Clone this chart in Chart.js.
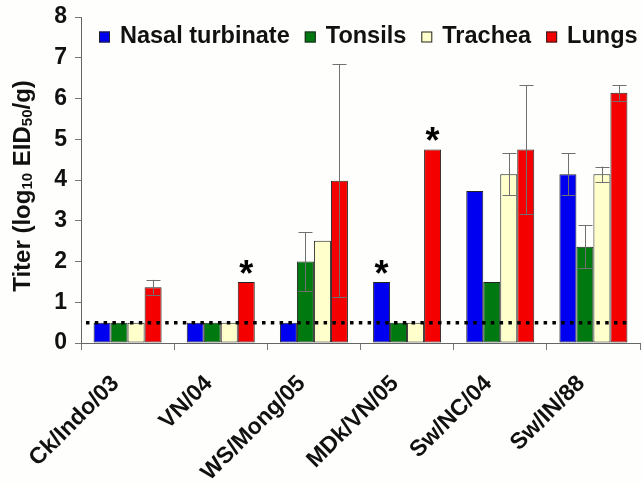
<!DOCTYPE html>
<html>
<head>
<meta charset="utf-8">
<script src="https://cdn.jsdelivr.net/npm/chart.js@4/dist/chart.umd.min.js"></script>
<style>
  html, body { margin: 0; padding: 0; background: #fefefc; }
  #wrap { width: 642px; height: 484px; }
</style>
</head>
<body>
<div id="wrap"><canvas id="c" width="642" height="484"></canvas></div>
<script>
// Virus strains (x categories)
const categories = ['Ck/Indo/03', 'VN/04', 'WS/Mong/05', 'MDk/VN/05', 'Sw/NC/04', 'Sw/IN/88'];

// Mean titers, log10 EID50/g
const nasalTurbinate = [0.5, 0.5, 0.5, 1.5, 3.73, 4.14];
const tonsils        = [0.5, 0.5, 2.0, 0.5, 1.5, 2.36];
const trachea        = [0.5, 0.5, 2.51, 0.5, 4.14, 4.14];
const lungs          = [1.37, 1.5, 3.98, 4.75, 4.75, 6.14];

// Standard deviations (0 = no error bar)
const nasalTurbinateSD = [0, 0, 0, 0, 0, 0.52];
const tonsilsSD        = [0, 0, 0.72, 0, 0, 0.53];
const tracheaSD        = [0, 0, 0, 0, 0.52, 0.19];
const lungsSD          = [0.18, 0, 2.86, 0, 1.58, 0.19];

// Significance markers (*) per series
const nasalTurbinateSig = [false, false, false, true, false, false];
const tonsilsSig        = [false, false, false, false, false, false];
const tracheaSig        = [false, false, false, false, false, false];
const lungsSig          = [false, true, false, true, false, false];

// Y axis ticks and detection limit
const yTicks = [0, 1, 2, 3, 4, 5, 6, 7, 8];
const detectionLimit = 0.5;

const FONT = '"Liberation Sans", Arial, Helvetica, sans-serif';

const datasets = [
  { label: 'Nasal turbinate', data: nasalTurbinate, sd: nasalTurbinateSD, sig: nasalTurbinateSig, backgroundColor: '#0000f0' },
  { label: 'Tonsils',         data: tonsils,        sd: tonsilsSD,        sig: tonsilsSig,        backgroundColor: '#007a10' },
  { label: 'Trachea',         data: trachea,        sd: tracheaSD,        sig: tracheaSig,        backgroundColor: '#ffffcc' },
  { label: 'Lungs',           data: lungs,          sd: lungsSD,          sig: lungsSig,          backgroundColor: '#f50000' }
].map(d => Object.assign(d, {
  borderColor: '#222',
  borderWidth: 1,
  borderSkipped: false,
  barPercentage: 1.0,
  categoryPercentage: 0.73
}));

// Page background
const bgPlugin = {
  id: 'bg',
  beforeDraw(chart) {
    const ctx = chart.ctx;
    ctx.save();
    ctx.fillStyle = '#fefefc';
    ctx.fillRect(0, 0, chart.width, chart.height);
    ctx.restore();
  }
};

// Error bars, detection-limit line, asterisks, axis labels and legend
const overlayPlugin = {
  id: 'overlay',
  afterDatasetsDraw(chart) {
    const ctx = chart.ctx;
    const y = chart.scales.y;
    const area = chart.chartArea;
    ctx.save();
    chart.data.datasets.forEach((ds, di) => {
      const meta = chart.getDatasetMeta(di);
      meta.data.forEach((bar, i) => {
        const sd = ds.sd[i];
        if (sd > 0) {
          const v = ds.data[i];
          const yTop = y.getPixelForValue(v + sd);
          const yBot = y.getPixelForValue(v - sd);
          const x = Math.round(bar.x) + 0.5;
          const cap = 7;
          ctx.strokeStyle = '#707070';
          ctx.lineWidth = 1;
          ctx.beginPath();
          ctx.moveTo(x, yTop); ctx.lineTo(x, yBot);
          ctx.moveTo(x - cap, Math.round(yTop) + 0.5); ctx.lineTo(x + cap, Math.round(yTop) + 0.5);
          ctx.moveTo(x - cap, Math.round(yBot) + 0.5); ctx.lineTo(x + cap, Math.round(yBot) + 0.5);
          ctx.stroke();
        }
      });
    });
    // detection limit
    const yl = y.getPixelForValue(detectionLimit);
    ctx.strokeStyle = '#000';
    ctx.lineWidth = 3.5;
    ctx.setLineDash([3.5, 5.3]);
    ctx.beginPath();
    ctx.moveTo(area.left + 5, yl);
    ctx.lineTo(area.right - 10, yl);
    ctx.stroke();
    ctx.setLineDash([]);
    // asterisks
    ctx.fillStyle = '#000';
    ctx.font = 'bold 36px ' + FONT;
    ctx.textAlign = 'center';
    ctx.textBaseline = 'alphabetic';
    chart.data.datasets.forEach((ds, di) => {
      const meta = chart.getDatasetMeta(di);
      meta.data.forEach((bar, i) => {
        if (ds.sig[i]) ctx.fillText('*', bar.x, bar.y + 4);
      });
    });
    ctx.restore();
  },
  afterDraw(chart) {
    const ctx = chart.ctx;
    const xs = chart.scales.x;
    const area = chart.chartArea;
    ctx.save();
    // rotated category labels
    ctx.fillStyle = '#111';
    ctx.font = 'bold 23px ' + FONT;
    ctx.textAlign = 'right';
    ctx.textBaseline = 'middle';
    categories.forEach((c, i) => {
      const x = xs.getPixelForValue(i) - 12;
      const yy = area.bottom + 37;
      ctx.save();
      ctx.translate(x, yy);
      ctx.rotate(-Math.PI / 4);
      ctx.fillText(c, 0, 0);
      ctx.restore();
    });
    // y axis title with subscripts
    const parts = [
      ['Titer (log', 24, 0], ['10', 15, 5], [' EID', 24, 0], ['50', 15, 5], ['/g)', 24, 0]
    ];
    let total = 0;
    parts.forEach(p => { ctx.font = 'bold ' + p[1] + 'px ' + FONT; total += ctx.measureText(p[0]).width; });
    ctx.translate(23, 186);
    ctx.rotate(-Math.PI / 2);
    ctx.textAlign = 'left';
    ctx.textBaseline = 'middle';
    let px = -total / 2;
    parts.forEach(p => {
      ctx.font = 'bold ' + p[1] + 'px ' + FONT;
      ctx.fillText(p[0], px, p[2]);
      px += ctx.measureText(p[0]).width;
    });
    ctx.restore();
    // legend
    ctx.save();
    ctx.font = 'bold 23.5px ' + FONT;
    ctx.textBaseline = 'middle';
    ctx.textAlign = 'left';
    let lx = 99;
    const ly = 37;
    chart.data.datasets.forEach(ds => {
      ctx.fillStyle = ds.backgroundColor;
      ctx.fillRect(lx, ly - 5.5, 11, 11);
      ctx.strokeStyle = '#222';
      ctx.lineWidth = 1;
      ctx.strokeRect(lx + 0.5, ly - 5, 10, 10);
      ctx.fillStyle = '#111';
      ctx.fillText(ds.label, lx + 21, ly);
      lx += 21 + ctx.measureText(ds.label).width + 15;
    });
    ctx.restore();
  }
};

new Chart(document.getElementById('c'), {
  type: 'bar',
  data: { labels: categories, datasets },
  options: {
    responsive: false,
    animation: false,
    devicePixelRatio: 1,
    layout: { padding: { top: 17, right: 2, left: 0, bottom: 0 } },
    plugins: { legend: { display: false }, tooltip: { enabled: false } },
    scales: {
      x: {
        grid: { drawOnChartArea: false, drawTicks: true, tickLength: 7, color: '#777', offset: true },
        border: { color: '#666', width: 1 },
        ticks: { display: false },
        afterFit(s) { s.height = 141; }
      },
      y: {
        min: 0, max: 8,
        afterBuildTicks(s) { s.ticks = yTicks.map(v => ({ value: v })); },
        ticks: { font: { family: FONT, size: 23, weight: 'bold' }, color: '#111', padding: 8 },
        grid: { drawOnChartArea: false, drawTicks: true, tickLength: 6, color: '#777' },
        border: { color: '#666', width: 1 },
        afterFit(s) { s.width = 81; s.paddingTop = 0; s.paddingBottom = 0; }
      }
    }
  },
  plugins: [bgPlugin, overlayPlugin]
});
</script>
</body>
</html>
